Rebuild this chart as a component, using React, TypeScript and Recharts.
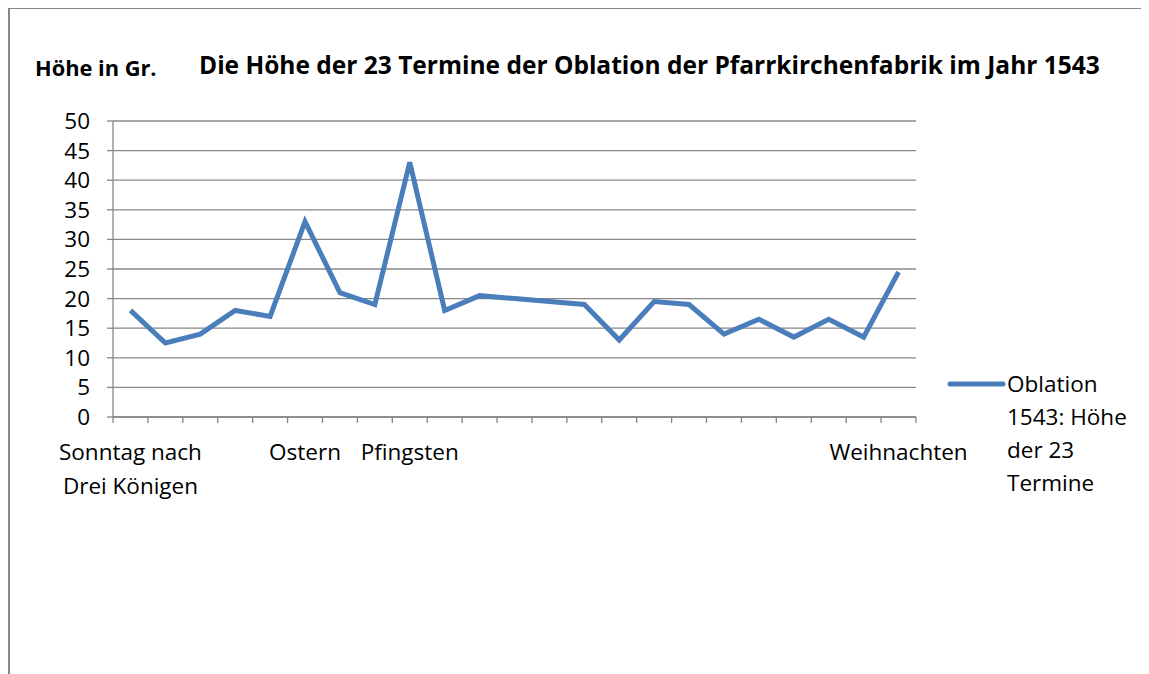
import React from "react";
import { LineChart, Line, XAxis, YAxis, CartesianGrid } from "recharts";

const categories: string[] = [
  "Sonntag nach Drei Königen", "", "", "", "", "Ostern", "", "", "Pfingsten", "", "", "",
  "", "", "", "", "", "", "", "", "", "", "Weihnachten",
];
const values: number[] = [
  18, 12.5, 14, 18, 17, 33, 21, 19, 43, 18, 20.5, 20, 19.5, 19, 13, 19.5, 19, 14, 16.5, 13.5, 16.5, 13.5, 24.5,
];
const yTicks: number[] = [0, 5, 10, 15, 20, 25, 30, 35, 40, 45, 50];
const legendLines: string[] = ["Oblation", "1543: Höhe", "der 23", "Termine"];
const seriesName = legendLines.join(" ");
const chartTitle = "Die Höhe der 23 Termine der Oblation der Pfarrkirchenfabrik im Jahr 1543";
const yTitle = "Höhe in Gr.";

const data = values.map((v, i) => ({ x: i + 0.5, name: categories[i], value: v }));
const boundaryTicks = categories.map((_, i) => i).concat([categories.length]);
const labelTicks = categories.map((c, i) => (c ? i + 0.5 : -1)).filter((v) => v >= 0);
const xTicks = [...boundaryTicks, ...labelTicks].sort((a, b) => a - b);

const FONT = "'Open Sans', sans-serif";
const GRID = "#878787";
const BLUE = "#4A7EBB";
const FS = 22.5;

const wrapLabel = (s: string): string[] => {
  const w = s.split(" ");
  if (w.length <= 2) return [s];
  return [w.slice(0, 2).join(" "), w.slice(2).join(" ")];
};

const XTick = (props: any) => {
  const { x, y, payload } = props;
  const v = payload.value as number;
  if (Number.isInteger(v)) {
    return <line x1={x} x2={x} y1={y - 6} y2={y} stroke={GRID} strokeWidth={1.3} />;
  }
  const lines = wrapLabel(categories[Math.floor(v)]);
  return (
    <text x={x} y={y + 29} textAnchor="middle" fontSize={FS} fontFamily={FONT} fill="#000">
      {lines.map((l, i) => (
        <tspan key={i} x={x} dy={i === 0 ? "0.36em" : 34}>
          {l}
        </tspan>
      ))}
    </text>
  );
};

export default function App() {
  return (
    <div style={{ position: "relative", width: 1141, height: 666, fontFamily: FONT }}>
      <div
        style={{
          position: "absolute",
          left: 0,
          top: 0,
          width: 1141,
          height: 666,
          borderTop: "1.5px solid #888",
          borderLeft: "2px solid #888",
          boxSizing: "border-box",
        }}
      />
      <div style={{ position: "absolute", left: 0, top: 0 }}>
        <LineChart width={1141} height={666} data={data} margin={{ top: 113, right: 233, bottom: 177, left: 0 }}>
          <CartesianGrid vertical={false} stroke={GRID} strokeWidth={1.3} />
          <XAxis
            dataKey="x"
            type="number"
            domain={[0, categories.length]}
            ticks={xTicks}
            interval={0}
            tickSize={6}
            tickMargin={0}
            tickLine={false}
            axisLine={{ stroke: GRID, strokeWidth: 1.3 }}
            tick={<XTick />}
            height={80}
          />
          <YAxis
            domain={[0, 50]}
            ticks={yTicks}
            interval={0}
            width={105}
            tickSize={6}
            tickMargin={17}
            axisLine={{ stroke: GRID, strokeWidth: 1.3 }}
            tickLine={{ stroke: GRID, strokeWidth: 1.3 }}
            tick={{ fill: "#000", fontSize: FS, fontFamily: FONT }}
          />
          <Line
            type="linear"
            dataKey="value"
            name={seriesName}
            stroke={BLUE}
            strokeWidth={5}
            dot={false}
            activeDot={false}
            isAnimationActive={false}
          />
        </LineChart>
      </div>
      <svg
        width={1141}
        height={666}
        style={{ position: "absolute", left: 0, top: 0, pointerEvents: "none" }}
      >
        <text x={27} y={67.5} fontSize={21.8} fontWeight={700} fontFamily={FONT} fill="#000">
          {yTitle}
        </text>
        <text x={191} y={66} fontSize={24.5} fontWeight={700} fontFamily={FONT} fill="#000">
          {chartTitle}
        </text>
        <line x1={942} x2={995} y1={376} y2={376} stroke={BLUE} strokeWidth={5} strokeLinecap="round" />
        {legendLines.map((l, i) => (
          <text key={i} x={999} y={376 + i * 33} dy="0.36em" fontSize={FS} fontFamily={FONT} fill="#000">
            {l}
          </text>
        ))}
      </svg>
    </div>
  );
}
